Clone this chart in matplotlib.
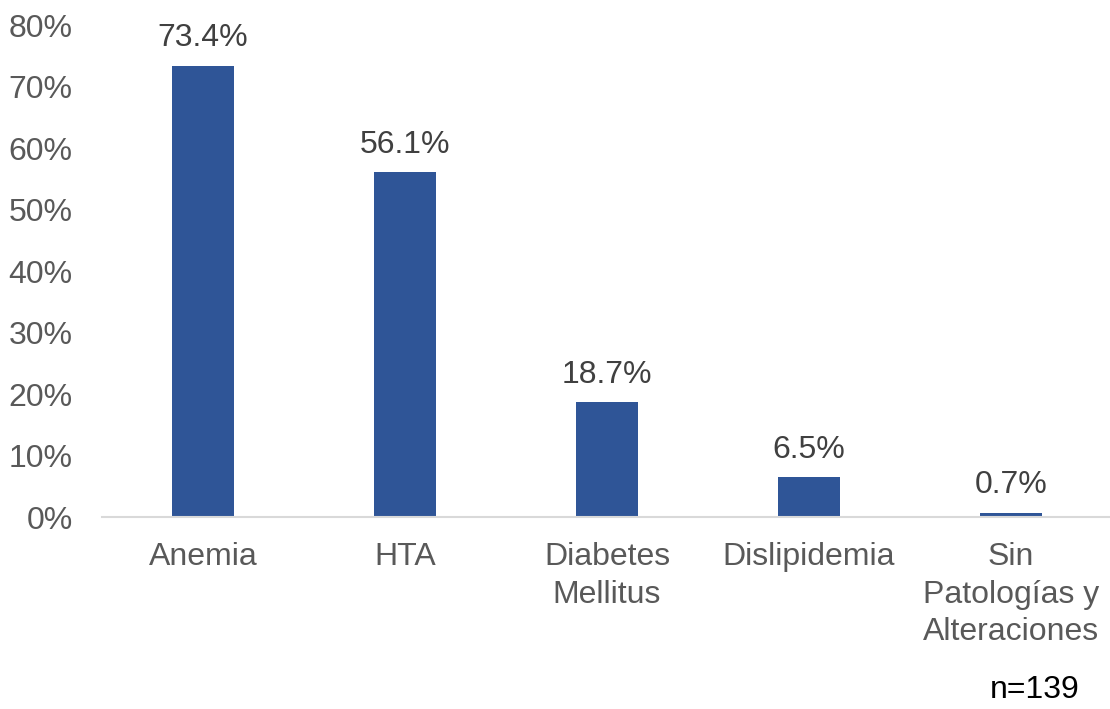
import matplotlib.pyplot as plt
from matplotlib.ticker import FuncFormatter

plt.rcParams['font.family'] = ['Liberation Sans', 'DejaVu Sans']

# datos
categorias = ['Anemia', 'HTA', 'Diabetes\nMellitus', 'Dislipidemia', 'Sin\nPatologías y\nAlteraciones']
valores = [73.4, 56.1, 18.7, 6.5, 0.7]
yticks = [0, 10, 20, 30, 40, 50, 60, 70, 80]

fig = plt.figure(figsize=(11.1, 7.09), dpi=100)
ax = fig.add_axes([0.0919, 0.2708, 0.91, 0.6939])

x = range(len(categorias))
bars = ax.bar(x, valores, width=0.31, color='#2F5597')

for b, v in zip(bars, valores):
    ax.annotate(f'{v:.1f}%', (b.get_x() + b.get_width() / 2, v),
                xytext=(0, 9), textcoords='offset points',
                ha='center', va='bottom', fontsize=23, color='#404040')

ax.set_xlim(-0.5, 4.5)
ax.set_ylim(0, 80)
ax.set_yticks(yticks)
ax.yaxis.set_major_formatter(FuncFormatter(lambda v, p: f'{v:.0f}%'))
ax.set_xticks(list(x))
ax.set_xticklabels(categorias, linespacing=1.33)

ax.tick_params(axis='y', length=0, pad=21, labelsize=23, labelcolor='#595959')
ax.tick_params(axis='x', length=0, pad=18, labelsize=23, labelcolor='#595959')

for s in ['top', 'right', 'left']:
    ax.spines[s].set_visible(False)
ax.spines['bottom'].set_color('#D9D9D9')
ax.spines['bottom'].set_linewidth(1.5)

fig.text(0.932, 0.027, 'n=139', fontsize=23, color='black', ha='center', va='center')

plt.savefig('out.png', dpi=100)
